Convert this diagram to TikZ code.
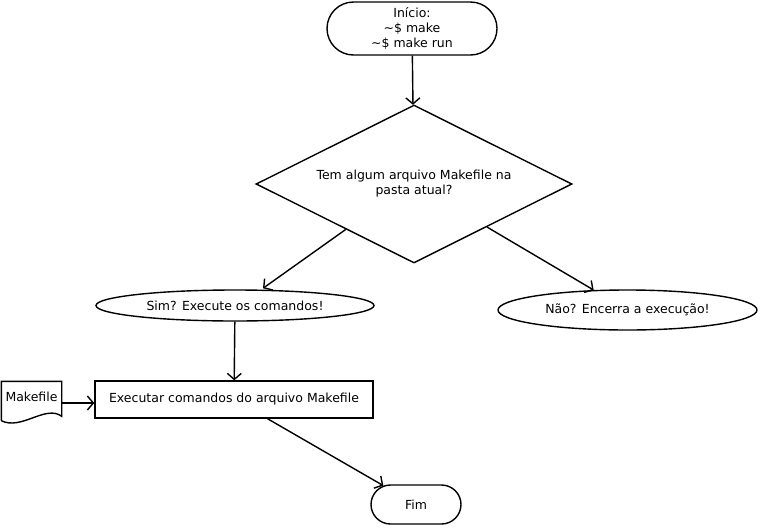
\documentclass[tikz,border=0pt]{standalone}
\usepackage{fontspec}
\setmainfont{DejaVu Sans}
\usetikzlibrary{arrows.meta,positioning,calc,shapes.geometric,shapes.misc}

\begin{document}
\begin{tikzpicture}[x=1pt, y=-1pt,
				      every node/.style={align=center, line width=1.4pt, font=\fontsize{12.5}{15}\selectfont},
				      startEnd/.style={
						      draw, shape=rounded rectangle,
						      inner sep=0pt
					      },
				      decisionVertex/.style={
						      draw, shape=diamond, aspect=2,
						      minimum width=316pt, minimum height=158pt,
						      inner sep=0pt
					      },
				      answerVertex/.style={
						      draw, shape=ellipse,
						      inner sep=0pt
					      },
				      processVertex/.style={
						      draw, shape=rectangle,
						      minimum width=278pt, minimum height=37pt,
						      inner sep=0pt
					      },
				      docVertex/.style={
						      minimum width=59pt, minimum height=30pt,
						      inner sep=0pt
					      },
				      flowarrow/.style={line width=1.4pt, -{Straight Barb[length=6pt, width=14pt, line width=1.4pt]}}
			      ]
			      \useasboundingbox (0,0) rectangle (761,528);

			      % Start and question
			      \node[startEnd, minimum width=170pt, minimum height=53pt] (inicio) at (412,28.5)
			      {Início:\\ \textasciitilde\$ make\\ \textasciitilde\$ make run};
			      \node[decisionVertex] (pergunta) at (414,184) {Tem algum arquivo Makefile na\\ pasta atual?};

			      % Answers
			      \node[answerVertex, minimum width=278pt, minimum height=31pt] (sim) at (235,305.5) {Sim? Execute os comandos!};
			      \node[answerVertex, minimum width=259pt, minimum height=40pt] (nao) at (627.5,310) {Não? Encerra a execução!};

			      % Execution
			      \node[processVertex] (executar) at (234,399.5) {Executar comandos do arquivo Makefile};
			      \node[docVertex] (makefile) at (31.5,397) {Makefile};
			      \draw[line width=1.4pt] (makefile.south west) ++(0,8) coordinate (mkl) -- (makefile.north west)
			      -- (makefile.north east) -- ++(0,35) coordinate (mkr) .. controls +(-16,-12) and +(20,10) .. (mkl);
			      \node[startEnd, minimum width=90pt, minimum height=39pt] (fim) at (416,504.5) {Fim};

			      \draw[flowarrow] (inicio) -- (pergunta);
			      \draw[flowarrow] ($(pergunta.west)!0.57!(pergunta.south)$) -- ($(sim.north)+(28,-1)$);
			      \draw[flowarrow] ($(pergunta.east)!0.54!(pergunta.south)$) -- (nao);
			      \draw[flowarrow] (sim) -- (executar);
			      \draw[flowarrow] (makefile.east |- 0,403) -- (executar.west |- 0,403);
			      \draw[flowarrow] ($(executar.south west)!0.62!(executar.south east)$) -- (fim);
		      \end{tikzpicture}
\end{document}
